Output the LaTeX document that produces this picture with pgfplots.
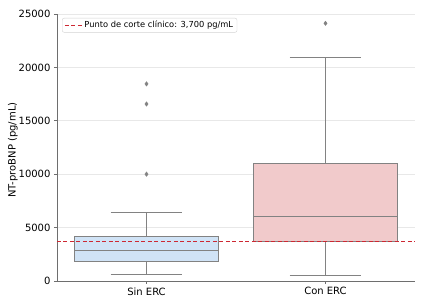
\documentclass[border=0pt]{standalone}
\usepackage{fontspec}
\setmainfont{DejaVu Sans}
\usepackage{pgfplots}
\pgfplotsset{compat=1.18}
\definecolor{boxblue}{RGB}{208,227,246}
\definecolor{boxred}{RGB}{241,202,203}
\definecolor{edgegray}{RGB}{130,130,130}
\definecolor{spinegray}{RGB}{110,110,110}
\definecolor{cutred}{RGB}{205,40,50}
\definecolor{gridgray}{RGB}{232,232,232}
\begin{document}
\begin{tikzpicture}
\useasboundingbox (-57pt,-23pt) rectangle (367pt,281pt);
\begin{axis}[
  at={(0,0)}, anchor=south west,
  scale only axis, width=358pt, height=267pt,
  xmin=-0.5, xmax=1.5, ymin=0, ymax=25000,
  xtick={0,1}, xticklabels={Sin ERC, Con ERC},
  ytick={0,5000,10000,15000,20000,25000},
  yticklabels={0,5000,10000,15000,20000,25000},
  scaled y ticks=false,
  axis x line*=bottom, axis y line*=left,
  axis line style={-, spinegray, line width=0.8pt},
  tick align=outside, major tick length=3pt,
  tick style={spinegray, line width=0.7pt},
  ymajorgrids, grid style={gridgray, line width=0.6pt},
  ylabel={NT-proBNP (pg/mL)},
  ylabel style={at={(axis description cs:-0.123,0.49)}, anchor=center},
  font=\fontsize{10}{12}\selectfont,
  ticklabel style={font=\fontsize{10}{12}\selectfont},
  legend style={at={(0.014,0.985)}, anchor=north west, draw=gray!35,
    rounded corners=2pt, fill=white, font=\fontsize{8.3}{10}\selectfont,
    inner xsep=2pt, inner ysep=1pt},
  legend cell align=left,
]
% ---- Sin ERC (position 0): whiskers 650/6370, Q1 1810, median 2870, Q3 4180
\addplot[forget plot, draw=edgegray, line width=1pt] coordinates {(0,650) (0,1810)};
\addplot[forget plot, draw=edgegray, line width=1pt] coordinates {(0,4180) (0,6370)};
\addplot[forget plot, draw=edgegray, line width=1pt] coordinates {(-0.2,650) (0.2,650)};
\addplot[forget plot, draw=edgegray, line width=1pt] coordinates {(-0.2,6370) (0.2,6370)};
\addplot[forget plot, draw=edgegray, fill=boxblue, line width=1pt]
  coordinates {(-0.4,1810) (0.4,1810) (0.4,4180) (-0.4,4180) (-0.4,1810)};
\addplot[forget plot, draw=edgegray, line width=1pt] coordinates {(-0.4,2870) (0.4,2870)};
\addplot[forget plot, only marks, mark=diamond*, mark size=2.2pt, draw=edgegray, fill=edgegray]
  coordinates {(0,10000) (0,16570) (0,18450)};
% ---- Con ERC (position 1): whiskers 530/20880, Q1 3720, median 6060, Q3 11020
\addplot[forget plot, draw=edgegray, line width=1pt] coordinates {(1,530) (1,3720)};
\addplot[forget plot, draw=edgegray, line width=1pt] coordinates {(1,11020) (1,20880)};
\addplot[forget plot, draw=edgegray, line width=1pt] coordinates {(0.8,530) (1.2,530)};
\addplot[forget plot, draw=edgegray, line width=1pt] coordinates {(0.8,20880) (1.2,20880)};
\addplot[forget plot, draw=edgegray, fill=boxred, line width=1pt]
  coordinates {(0.6,3720) (1.4,3720) (1.4,11020) (0.6,11020) (0.6,3720)};
\addplot[forget plot, draw=edgegray, line width=1pt] coordinates {(0.6,6060) (1.4,6060)};
\addplot[forget plot, only marks, mark=diamond*, mark size=2.2pt, draw=edgegray, fill=edgegray]
  coordinates {(1,24130)};
% ---- clinical cut-off
\addplot[draw=cutred, mark=none, line width=1.2pt, dash pattern=on 4pt off 2.5pt]
  coordinates {(-0.5,3700) (1.5,3700)};
\addlegendentry{Punto de corte clínico: 3,700 pg/mL}
\end{axis}
\end{tikzpicture}
\end{document}
